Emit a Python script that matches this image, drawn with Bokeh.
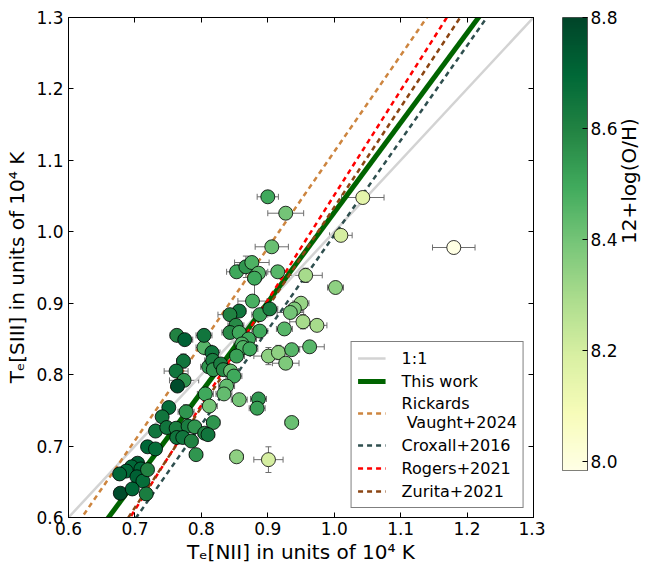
import numpy as np
from bokeh.plotting import figure
from bokeh.models import (ColumnDataSource, LinearColorMapper, Whisker, TeeHead, LinearAxis,
                          FixedTicker, CustomJSTickFormatter, PrintfTickFormatter, Range1d)
from bokeh.layouts import row
from bokeh.embed import file_html
from bokeh.resources import INLINE

# ---------------- data ----------------
te_nii = [0.900, 0.927, 1.043, 1.010, 1.180, 0.906, 0.853, 0.867, 0.876, 0.886,
          0.880, 0.915, 0.957, 1.002, 0.877, 0.857, 0.843, 0.888, 0.903, 0.950,
          0.940, 0.934, 0.953, 0.974, 0.925, 0.888, 0.852, 0.843, 0.857, 0.871,
          0.861, 0.863, 0.873, 0.853, 0.804, 0.816, 0.804, 0.763, 0.775, 0.773,
          0.762, 0.774, 0.764, 0.811, 0.817, 0.818, 0.829, 0.833, 0.844, 0.849,
          0.901, 0.916, 0.927, 0.936, 0.963, 0.838, 0.806, 0.834, 0.812, 0.857,
          0.886, 0.884, 0.751, 0.741, 0.777, 0.731, 0.748, 0.762, 0.780, 0.790,
          0.818, 0.805, 0.810, 0.763, 0.772, 0.785, 0.792, 0.719, 0.731, 0.936,
          0.853, 0.901, 0.704, 0.695, 0.687, 0.677, 0.709, 0.703, 0.712, 0.719,
          0.678, 0.696, 0.717]
te_siii = [1.049, 1.026, 1.048, 0.995, 0.978, 0.979, 0.944, 0.951, 0.957, 0.942,
           0.935, 0.944, 0.939, 0.922, 0.903, 0.889, 0.884, 0.884, 0.892, 0.900,
           0.892, 0.887, 0.874, 0.869, 0.864, 0.861, 0.869, 0.859, 0.859, 0.850,
           0.843, 0.838, 0.836, 0.826, 0.838, 0.831, 0.855, 0.855, 0.849, 0.819,
           0.805, 0.792, 0.784, 0.811, 0.820, 0.807, 0.815, 0.807, 0.805, 0.798,
           0.826, 0.831, 0.816, 0.835, 0.839, 0.784, 0.773, 0.773, 0.756, 0.765,
           0.766, 0.753, 0.754, 0.741, 0.748, 0.721, 0.726, 0.725, 0.728, 0.727,
           0.733, 0.718, 0.716, 0.712, 0.712, 0.707, 0.688, 0.699, 0.696, 0.733,
           0.685, 0.681, 0.676, 0.671, 0.665, 0.661, 0.668, 0.657, 0.651, 0.667,
           0.634, 0.640, 0.633]
err_nii = [0.016, 0.027, 0.032, 0.017, 0.032, 0.025, 0.015, 0.012, 0.026, 0.012,
           0.010, 0.015, 0.025, 0.012, 0.022, 0.010, 0.018, 0.012, 0.012, 0.012,
           0.012, 0.020, 0.020, 0.015, 0.012, 0.012, 0.012, 0.012, 0.012, 0.012,
           0.012, 0.012, 0.012, 0.012, 0.012, 0.012, 0.012, 0.010, 0.012, 0.010,
           0.018, 0.022, 0.008, 0.012, 0.012, 0.012, 0.012, 0.012, 0.012, 0.012,
           0.022, 0.012, 0.020, 0.012, 0.022, 0.012, 0.012, 0.012, 0.012, 0.012,
           0.012, 0.012, 0.008, 0.008, 0.012, 0.008, 0.010, 0.010, 0.010, 0.010,
           0.010, 0.010, 0.010, 0.010, 0.010, 0.010, 0.010, 0.008, 0.008, 0.010,
           0.010, 0.022, 0.008, 0.008, 0.008, 0.010, 0.008, 0.008, 0.008, 0.008,
           0.008, 0.008, 0.008]
err_siii = [0.007, 0.008, 0.008, 0.004, 0.006, 0.007, 0.005, 0.015, 0.005, 0.006,
            0.025, 0.005, 0.010, 0.004, 0.005, 0.005, 0.005, 0.005, 0.005, 0.005,
            0.005, 0.005, 0.010, 0.005, 0.005, 0.005, 0.005, 0.005, 0.005, 0.005,
            0.005, 0.005, 0.005, 0.005, 0.005, 0.005, 0.005, 0.005, 0.005, 0.010,
            0.005, 0.008, 0.005, 0.005, 0.005, 0.005, 0.005, 0.005, 0.005, 0.005,
            0.012, 0.010, 0.005, 0.005, 0.005, 0.005, 0.005, 0.005, 0.005, 0.005,
            0.005, 0.005, 0.005, 0.005, 0.010, 0.005, 0.005, 0.005, 0.005, 0.005,
            0.005, 0.005, 0.005, 0.005, 0.005, 0.005, 0.005, 0.005, 0.005, 0.005,
            0.006, 0.018, 0.005, 0.005, 0.005, 0.008, 0.005, 0.005, 0.005, 0.005,
            0.005, 0.005, 0.005]
oh = [8.50, 8.40, 8.15, 8.20, 7.99, 8.42, 8.50, 8.55, 8.47, 8.45,
      8.50, 8.45, 8.30, 8.35, 8.48, 8.65, 8.60, 8.52, 8.62, 8.33,
      8.38, 8.40, 8.30, 8.30, 8.45, 8.50, 8.58, 8.58, 8.50, 8.50,
      8.47, 8.47, 8.50, 8.52, 8.45, 8.65, 8.65, 8.60, 8.72, 8.65,
      8.65, 8.55, 8.78, 8.55, 8.62, 8.55, 8.62, 8.58, 8.42, 8.50,
      8.35, 8.35, 8.38, 8.45, 8.45, 8.43, 8.50, 8.43, 8.40, 8.40,
      8.55, 8.52, 8.68, 8.65, 8.55, 8.65, 8.65, 8.62, 8.62, 8.55,
      8.55, 8.60, 8.65, 8.65, 8.65, 8.60, 8.55, 8.70, 8.68, 8.42,
      8.35, 8.20, 8.72, 8.70, 8.70, 8.70, 8.70, 8.72, 8.68, 8.60,
      8.78, 8.70, 8.62]

# relations  T[SIII] = slope * T[NII] + intercept  (10^4 K)
rel_names = ["1:1", "This work", "Rickards\n Vaught+2024", "Croxall+2016",
             "Rogers+2021", "Zurita+2021"]
rel_slope = [1.0, 1.2567, 1.3477, 1.3265, 1.4684, 1.4011]
rel_icpt = [0.0, -0.2297, -0.2356, -0.3312, -0.4173, -0.3668]

x_ticks = [0.6, 0.7, 0.8, 0.9, 1.0, 1.1, 1.2, 1.3]
y_ticks = [0.6, 0.7, 0.8, 0.9, 1.0, 1.1, 1.2, 1.3]
cb_ticks = [8.0, 8.2, 8.4, 8.6, 8.8]
oh_low, oh_high = 7.984, 8.8

# ---------------- styles ----------------
rel_colors = ["#d3d3d3", "#006400", "#cd853f", "#2f4f4f", "#ff0000", "#8b4513"]
rel_widths = [2.5, 5, 2.5, 2.5, 2.5, 2.5]
rel_dash = ["solid", "solid", "5 4", "5 4", "5 4", "5 4"]

FONT = "DejaVu Sans"
TICK_FS = "17px"
LABEL_FS = "20px"

# YlGn colormap, light -> dark
ylgn9 = ['#ffffe5', '#f7fcb9', '#d9f0a3', '#addd8e', '#78c679',
         '#41ab5d', '#238443', '#006837', '#004529']
def hex2rgb(h):
    return [int(h[i:i + 2], 16) for i in (1, 3, 5)]
base = np.array([hex2rgb(c) for c in ylgn9], dtype=float)
pos = np.linspace(0, 1, len(ylgn9))
t = np.linspace(0, 1, 256)
palette = ["#%02x%02x%02x" % tuple(int(round(np.interp(tt, pos, base[:, k]))) for k in range(3))
           for tt in t]
mapper = LinearColorMapper(palette=palette, low=oh_low, high=oh_high)

# ---------------- main figure ----------------
p = figure(x_range=Range1d(0.6, 1.3), y_range=Range1d(0.6, 1.3),
           frame_width=465, frame_height=500,
           min_border_left=68, min_border_top=17, min_border_right=12, min_border_bottom=48,
           output_backend="svg", toolbar_location=None)
p.grid.visible = False
p.outline_line_color = "black"
p.outline_line_width = 1

xs = np.array([0.6, 1.3])
for name, a, b, c, w, d in zip(rel_names, rel_slope, rel_icpt, rel_colors, rel_widths, rel_dash):
    p.line(xs, a * xs + b, line_color=c, line_width=w, line_dash=d, legend_label=name)

src = ColumnDataSource(dict(
    x=te_nii, y=te_siii, oh=oh,
    xl=np.array(te_nii) - np.array(err_nii), xu=np.array(te_nii) + np.array(err_nii),
    yl=np.array(te_siii) - np.array(err_siii), yu=np.array(te_siii) + np.array(err_siii)))

ecol = "#6e6e6e"
wx = Whisker(source=src, base="y", lower="xl", upper="xu", dimension="width",
             line_color=ecol, line_width=1,
             lower_head=TeeHead(size=6, line_color=ecol, line_width=1),
             upper_head=TeeHead(size=6, line_color=ecol, line_width=1))
wy = Whisker(source=src, base="x", lower="yl", upper="yu", dimension="height",
             line_color=ecol, line_width=1,
             lower_head=TeeHead(size=6, line_color=ecol, line_width=1),
             upper_head=TeeHead(size=6, line_color=ecol, line_width=1))
p.add_layout(wx)
p.add_layout(wy)

p.scatter("x", "y", source=src, size=14, fill_color={"field": "oh", "transform": mapper},
          line_color="black", line_width=0.8)

for ax in (p.xaxis[0], p.yaxis[0]):
    ax.major_tick_in = 5
    ax.major_tick_out = 0
    ax.minor_tick_line_color = None
    ax.major_label_text_font = FONT
    ax.major_label_text_font_size = TICK_FS
    ax.major_label_text_color = "black"
    ax.axis_label_text_font = FONT
    ax.axis_label_text_font_size = LABEL_FS
    ax.axis_label_text_font_style = "normal"
    ax.axis_label_text_color = "black"
    ax.formatter = PrintfTickFormatter(format="%.1f")
p.xaxis[0].ticker = FixedTicker(ticks=x_ticks)
p.yaxis[0].ticker = FixedTicker(ticks=y_ticks)
p.xaxis[0].axis_label = "Tₑ[NII] in units of 10⁴ K"
p.yaxis[0].axis_label = "Tₑ[SIII] in units of 10⁴ K"
p.xaxis[0].major_label_standoff = 4
p.yaxis[0].major_label_standoff = 5
p.xaxis[0].axis_label_standoff = 2
p.yaxis[0].axis_label_standoff = 4

top_ax = LinearAxis(ticker=FixedTicker(ticks=x_ticks), formatter=CustomJSTickFormatter(code="return ''"),
                    major_tick_in=5, major_tick_out=0, minor_tick_line_color=None)
right_ax = LinearAxis(ticker=FixedTicker(ticks=y_ticks), formatter=CustomJSTickFormatter(code="return ''"),
                      major_tick_in=5, major_tick_out=0, minor_tick_line_color=None)
p.add_layout(top_ax, "above")
p.add_layout(right_ax, "right")

lg = p.legend[0]
lg.location = "bottom_right"
lg.margin = 9
lg.padding = 6
lg.spacing = 3
lg.border_line_color = "black"
lg.border_line_width = 1
lg.label_text_font = FONT
lg.label_text_font_size = "16px"
lg.label_text_color = "black"
lg.glyph_width = 28
lg.glyph_height = 20
lg.label_standoff = 16
lg.label_height = 20

# ---------------- colorbar figure ----------------
cb = figure(x_range=Range1d(0, 1), y_range=Range1d(oh_low, oh_high),
            frame_width=25, frame_height=453,
            min_border_left=17, min_border_top=17, min_border_bottom=95, min_border_right=5,
            output_backend="svg", toolbar_location=None, y_axis_location="right")
grad = np.linspace(oh_low, oh_high, 256).reshape(256, 1)
cb.image(image=[grad], x=0, y=oh_low, dw=1, dh=oh_high - oh_low, color_mapper=mapper)
cb.grid.visible = False
cb.xaxis.visible = False
cb.outline_line_color = "#555555"
cba = cb.yaxis[0]
cba.ticker = FixedTicker(ticks=cb_ticks)
cba.formatter = PrintfTickFormatter(format="%.1f")
cba.major_tick_in = 5
cba.major_tick_out = 0
cba.minor_tick_line_color = None
cba.axis_line_color = "#555555"
cba.major_label_text_font = FONT
cba.major_label_text_font_size = TICK_FS
cba.major_label_text_color = "black"
cba.major_label_standoff = 3
cba.axis_label = "12+log(O/H)"
cba.axis_label_text_font = FONT
cba.axis_label_text_font_size = LABEL_FS
cba.axis_label_text_font_style = "normal"
cba.axis_label_text_color = "black"
cba.axis_label_standoff = 8
cba.axis_label_orientation = np.pi / 2

layout = row(p, cb)
open("out.html", "w").write(file_html(layout, INLINE))
